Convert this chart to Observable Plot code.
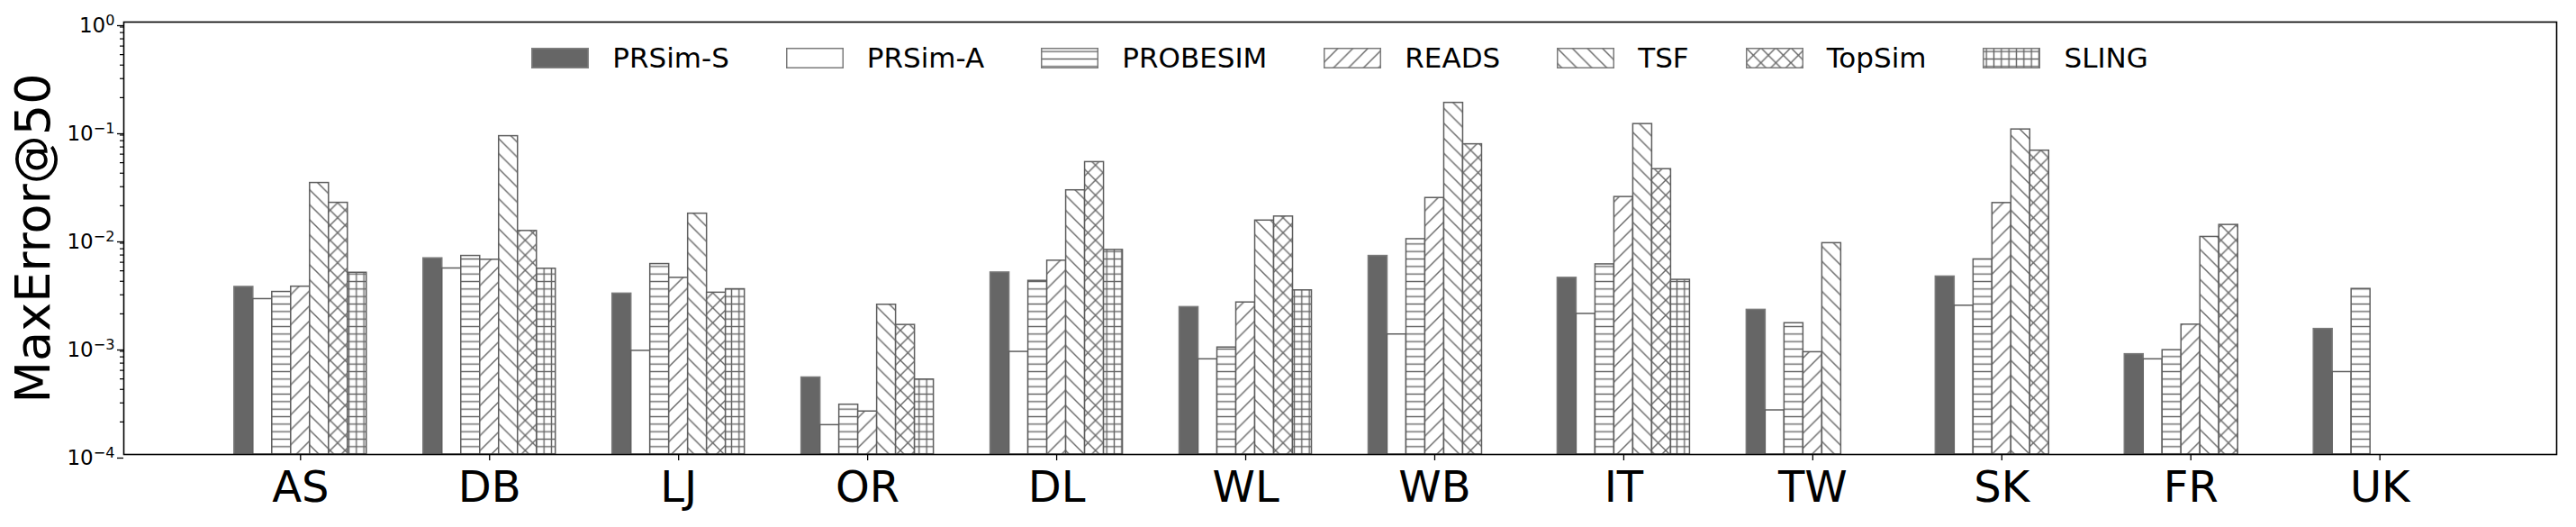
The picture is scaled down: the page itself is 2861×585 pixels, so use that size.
<!DOCTYPE html>
<html>
<head>
<meta charset="utf-8">
<script src="https://cdn.jsdelivr.net/npm/d3@7"></script>
<script src="https://cdn.jsdelivr.net/npm/@observablehq/plot@0.6"></script>
<style>
  body { margin: 0; background: #fff; }
  #chart { position: relative; width: 2861px; height: 585px; font-family: "DejaVu Sans", sans-serif; }
  #legend {
    position: absolute; left: 137px; width: 2702px; top: 49px;
    display: flex; justify-content: center; align-items: center; gap: 63px;
    font-size: 31px; line-height: 31px; color: #000;
  }
  #legend .item { display: flex; align-items: center; }
  #legend .item svg { display: block; margin-right: 26px; }
</style>
</head>
<body>
<svg width="0" height="0" style="position:absolute">
  <defs id="hatches"></defs>
</svg>
<div id="chart"><div id="legend"></div></div>
<script>
// Datasets along the x axis
const datasets = ["AS", "DB", "LJ", "OR", "DL", "WL", "WB", "IT", "TW", "SK", "FR", "UK"];
// Methods (one bar per method inside each dataset group)
const methods = ["PRSim-S", "PRSim-A", "PROBESIM", "READS", "TSF", "TopSim", "SLING"];

// MaxError@50 per method, in dataset order (null = not available)
const prsimS   = [3.55e-3, 6.53e-3, 3.08e-3, 5.16e-4, 4.83e-3, 2.31e-3, 6.87e-3, 4.31e-3, 2.18e-3, 4.43e-3, 8.47e-4, 1.45e-3];
const prsimA   = [2.74e-3, 5.26e-3, 9.1e-4, 1.87e-4, 8.9e-4, 7.6e-4, 1.29e-3, 2.0e-3, 2.56e-4, 2.38e-3, 7.6e-4, 5.79e-4];
const probesim = [3.19e-3, 6.87e-3, 5.78e-3, 2.89e-4, 4.04e-3, 9.77e-4, 9.82e-3, 5.74e-3, 1.64e-3, 6.38e-3, 9.23e-4, 3.40e-3];
const reads    = [3.57e-3, 6.34e-3, 4.31e-3, 2.50e-4, 6.21e-3, 2.55e-3, 2.36e-2, 2.41e-2, 8.84e-4, 2.12e-2, 1.59e-3, null];
const tsf      = [3.25e-2, 8.81e-2, 1.69e-2, 2.43e-3, 2.78e-2, 1.46e-2, 0.179, 0.114, 9.02e-3, 0.1016, 1.03e-2, null];
const topsim   = [2.13e-2, 1.17e-2, 3.14e-3, 1.58e-3, 5.07e-2, 1.59e-2, 7.41e-2, 4.36e-2, null, 6.47e-2, 1.33e-2, null];
const sling    = [4.80e-3, 5.23e-3, 3.38e-3, 4.94e-4, 7.81e-3, 3.30e-3, null, 4.13e-3, null, null, null, null];

// Y axis tick values
const majorTicks = [1e-4, 1e-3, 1e-2, 1e-1, 1];
const minorTicks = [-4, -3, -2, -1].flatMap(e => d3.range(2, 10).map(k => k * Math.pow(10, e)));

const series = [prsimS, prsimA, probesim, reads, tsf, topsim, sling];
const rows = methods.flatMap((method, j) =>
  datasets.map((dataset, i) => ({dataset, method, i, j, value: series[j][i]}))
    .filter(d => d.value != null)
);

// Hatch patterns, anchored to the canvas like matplotlib hatching
const hatchColor = "#666";
const P = 100 / 6, Q = 100 / 12;
const line = `stroke="${hatchColor}" stroke-width="1.4" fill="none"`;
document.getElementById("hatches").innerHTML = `
  <pattern id="hatch-h" patternUnits="userSpaceOnUse" width="${Q}" height="${Q}">
    <rect width="${Q}" height="${Q}" fill="white"/>
    <path d="M-1,${Q / 2}H${Q + 1}" ${line}/>
  </pattern>
  <pattern id="hatch-ne" patternUnits="userSpaceOnUse" width="${P}" height="${P}">
    <rect width="${P}" height="${P}" fill="white"/>
    <path d="M${-P / 2},${P / 2}L${P / 2},${-P / 2}M0,${P}L${P},0M${P / 2},${1.5 * P}L${1.5 * P},${P / 2}" ${line}/>
  </pattern>
  <pattern id="hatch-nw" patternUnits="userSpaceOnUse" width="${P}" height="${P}">
    <rect width="${P}" height="${P}" fill="white"/>
    <path d="M${P / 2},${-P / 2}L${1.5 * P},${P / 2}M0,0L${P},${P}M${-P / 2},${P / 2}L${P / 2},${1.5 * P}" ${line}/>
  </pattern>
  <pattern id="hatch-x" patternUnits="userSpaceOnUse" width="${P}" height="${P}">
    <rect width="${P}" height="${P}" fill="white"/>
    <path d="M${-P / 2},${P / 2}L${P / 2},${-P / 2}M0,${P}L${P},0M${P / 2},${1.5 * P}L${1.5 * P},${P / 2}" ${line}/>
    <path d="M${P / 2},${-P / 2}L${1.5 * P},${P / 2}M0,0L${P},${P}M${-P / 2},${P / 2}L${P / 2},${1.5 * P}" ${line}/>
  </pattern>
  <pattern id="hatch-grid" patternUnits="userSpaceOnUse" width="${Q}" height="${Q}">
    <rect width="${Q}" height="${Q}" fill="white"/>
    <path d="M-1,${Q / 2}H${Q + 1}M${Q / 2},-1V${Q + 1}" ${line}/>
  </pattern>`;

const fills = ["#666666", "white", "url(#hatch-h)", "url(#hatch-ne)", "url(#hatch-nw)", "url(#hatch-x)", "url(#hatch-grid)"];
const edges = ["#7a7a7a", "#5e5e5e", "#5e5e5e", "#5e5e5e", "#5e5e5e", "#5e5e5e", "#5e5e5e"];
const barWidth = 0.1;
const floor = 1e-4;

// Exponent of a power-of-ten tick, written with a true minus sign
const exponent = d => String(Math.round(Math.log10(d))).replace("-", "\u2212");

const plot = Plot.plot({
  width: 2861,
  height: 585,
  marginLeft: 137,
  marginRight: 22,
  marginTop: 24,
  marginBottom: 81,
  style: {fontFamily: "DejaVu Sans, sans-serif", background: "white", color: "black"},
  x: {domain: [-0.935, 11.935]},
  y: {type: "log", domain: [1e-4, 1]},
  marks: [
    ...methods.map((m, j) => Plot.rect(rows.filter(d => d.j === j), {
      x1: d => d.i + (d.j - 3.5) * barWidth,
      x2: d => d.i + (d.j - 2.5) * barWidth,
      y1: () => floor,
      y2: "value",
      fill: fills[j],
      stroke: edges[j],
      strokeWidth: 1.5
    })),
    Plot.axisY({ticks: minorTicks, tickSize: 4, tickFormat: () => "", label: null, strokeWidth: 1.2}),
    Plot.axisY({ticks: majorTicks, tickSize: 7, tickPadding: 3, tickFormat: d => "10|" + exponent(d), fontSize: 23, dy: 4, label: null, strokeWidth: 1.3}),
    Plot.axisX({ticks: d3.range(datasets.length), tickFormat: i => datasets[i], tickSize: 7, tickPadding: 11, fontSize: 48, label: null, strokeWidth: 1.3}),
    Plot.text(["MaxError@50"], {frameAnchor: "left", textAnchor: "middle", dx: -100, rotate: -90, fontSize: 54, fill: "black"}),
    Plot.frame({stroke: "black", strokeWidth: 1.6})
  ]
});

// Turn "10|e" tick labels into 10 with a raised exponent
d3.select(plot).selectAll("text").each(function() {
  const t = d3.select(this);
  const s = t.text();
  if (/^10\|/.test(s)) {
    const e = s.slice(3);
    t.text("10");
    t.append("tspan").attr("dy", "-0.5em").attr("font-size", "0.7em").text(e);
  }
});

const chart = document.getElementById("chart");
chart.insertBefore(plot, chart.firstChild);

// Legend row across the top of the plot area
const legend = d3.select("#legend");
methods.forEach((m, j) => {
  const item = legend.append("div").attr("class", "item");
  const sw = item.append("svg").attr("width", 64).attr("height", 23);
  sw.append("rect")
    .attr("x", 0.75).attr("y", 0.75).attr("width", 62.5).attr("height", 21.5)
    .attr("fill", fills[j]).attr("stroke", j === 0 ? "#808080" : "#7a7a7a").attr("stroke-width", 1.5);
  item.append("span").text(m);
});
</script>
</body>
</html>
